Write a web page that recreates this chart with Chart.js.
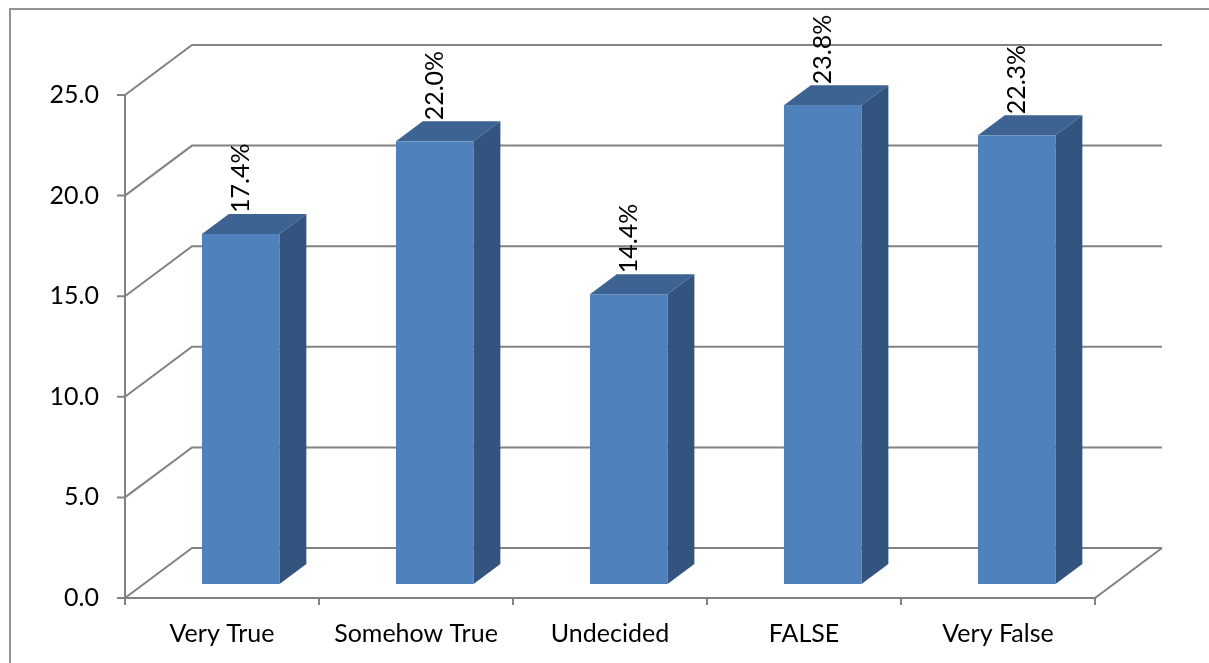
<!DOCTYPE html>
<html>
<head>
<meta charset="utf-8">
<script src="https://cdn.jsdelivr.net/npm/chart.js@4"></script>
<style>
  html, body { margin: 0; padding: 0; background: #ffffff; }
  #wrap { width: 1209px; height: 663px; }
</style>
</head>
<body>
<div id="wrap"><canvas id="chart" width="1209" height="663"></canvas></div>
<script>
// Survey answers and their share of respondents (%)
const categories = ['Very True', 'Somehow True', 'Undecided', 'FALSE', 'Very False'];
const percentValues = [17.4, 22.0, 14.4, 23.8, 22.3];
const yTickValues = [0, 5, 10, 15, 20, 25];

const FONT = 'Lato, "Liberation Sans", sans-serif';
const FONT_SIZE = 25;

// Perspective of the box: full depth shifts right and up by these amounts
const DEPTH_X = 67;
const DEPTH_Y = 50;
// Bars sit between these fractions of the depth
const BAR_FRONT = 0.28;
const BAR_BACK = 0.68;

const GRID_COLOR = '#828282';
const FRONT_COLOR = '#4F81BD';
const TOP_COLOR = '#3C6391';
const SIDE_COLOR = '#32547E';

const box3d = {
  id: 'box3d',
  beforeDatasetsDraw(chart) {
    const { ctx, chartArea, scales } = chart;
    const { left, right, bottom } = chartArea;
    const x = scales.x, y = scales.y;
    ctx.save();
    ctx.strokeStyle = GRID_COLOR;
    ctx.lineWidth = 2;
    ctx.beginPath();
    // side wall and back wall gridlines
    yTickValues.forEach(v => {
      const py = y.getPixelForValue(v);
      ctx.moveTo(left, py);
      ctx.lineTo(left + DEPTH_X, py - DEPTH_Y);
      ctx.lineTo(right + DEPTH_X, py - DEPTH_Y);
      // tick mark on the value axis
      ctx.moveTo(left - 8, py);
      ctx.lineTo(left, py);
    });
    // value axis
    ctx.moveTo(left, y.getPixelForValue(yTickValues[yTickValues.length - 1]));
    ctx.lineTo(left, bottom);
    // floor front edge and right edge
    ctx.moveTo(left, bottom);
    ctx.lineTo(right, bottom);
    ctx.lineTo(right + DEPTH_X, bottom - DEPTH_Y);
    // category tick marks at the boundaries
    const step = x.getPixelForValue(1) - x.getPixelForValue(0);
    for (let i = 0; i <= categories.length; i++) {
      const bx = x.getPixelForValue(0) - step / 2 + i * step;
      ctx.moveTo(bx, bottom);
      ctx.lineTo(bx, bottom + 7);
    }
    ctx.stroke();
    ctx.restore();
  },
  afterDatasetsDraw(chart) {
    const { ctx } = chart;
    const meta = chart.getDatasetMeta(0);
    const values = chart.data.datasets[0].data;
    const fx = DEPTH_X * BAR_FRONT, fy = DEPTH_Y * BAR_FRONT;
    const dx = DEPTH_X * (BAR_BACK - BAR_FRONT), dy = DEPTH_Y * (BAR_BACK - BAR_FRONT);
    ctx.save();
    meta.data.forEach((bar, i) => {
      const p = bar.getProps(['x', 'y', 'base', 'width'], true);
      const x0 = p.x - p.width / 2 + fx, x1 = p.x + p.width / 2 + fx;
      const y0 = p.y - fy, y1 = p.base - fy;
      // front face
      ctx.fillStyle = FRONT_COLOR;
      ctx.fillRect(x0, y0, x1 - x0, y1 - y0);
      // top face
      ctx.fillStyle = TOP_COLOR;
      ctx.beginPath();
      ctx.moveTo(x0, y0);
      ctx.lineTo(x1, y0);
      ctx.lineTo(x1 + dx, y0 - dy);
      ctx.lineTo(x0 + dx, y0 - dy);
      ctx.closePath();
      ctx.fill();
      // side face
      ctx.fillStyle = SIDE_COLOR;
      ctx.beginPath();
      ctx.moveTo(x1, y0);
      ctx.lineTo(x1 + dx, y0 - dy);
      ctx.lineTo(x1 + dx, y1 - dy);
      ctx.lineTo(x1, y1);
      ctx.closePath();
      ctx.fill();
      // value label, written upward from the top face
      ctx.save();
      ctx.translate(p.x + fx, y0 - dy - 1);
      ctx.rotate(-Math.PI / 2);
      ctx.fillStyle = '#000000';
      ctx.font = FONT_SIZE + 'px ' + FONT;
      ctx.textAlign = 'left';
      ctx.textBaseline = 'middle';
      ctx.fillText(values[i].toFixed(1) + '%', 0, 0);
      ctx.restore();
    });
    ctx.restore();
  },
  afterDraw(chart) {
    const { ctx } = chart;
    ctx.save();
    ctx.strokeStyle = '#939393';
    ctx.lineWidth = 2;
    ctx.strokeRect(10, 9, chart.width + 20, chart.height + 20);
    ctx.restore();
  }
};

new Chart(document.getElementById('chart'), {
  type: 'bar',
  data: {
    labels: categories,
    datasets: [{
      data: percentValues,
      backgroundColor: 'rgba(0,0,0,0)',
      borderWidth: 0,
      categoryPercentage: 1.0,
      barPercentage: 0.4
    }]
  },
  options: {
    responsive: false,
    animation: false,
    events: [],
    layout: { padding: { left: 0, top: 95, right: 114, bottom: 0 } },
    plugins: { legend: { display: false }, tooltip: { enabled: false } },
    scales: {
      x: {
        type: 'category',
        offset: true,
        grid: { display: false, drawTicks: false },
        border: { display: false },
        ticks: {
          padding: 21,
          color: '#000000',
          font: { family: FONT, size: FONT_SIZE },
          maxRotation: 0,
          autoSkip: false
        },
        afterFit(scale) { scale.height = 65; }
      },
      y: {
        min: 0,
        max: 25,
        grid: { display: false, drawTicks: false },
        border: { display: false },
        ticks: {
          stepSize: 5,
          padding: 26,
          color: '#000000',
          font: { family: FONT, size: FONT_SIZE },
          callback: v => Number(v).toFixed(1)
        },
        afterFit(scale) { scale.width = 125; }
      }
    }
  },
  plugins: [box3d]
});
</script>
</body>
</html>
